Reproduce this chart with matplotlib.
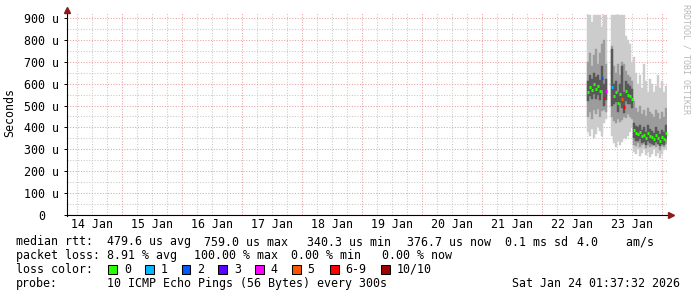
#!/usr/bin/env python3
"""SmokePing style latency graph (10 days, ICMP echo), redrawn with matplotlib."""
import matplotlib
matplotlib.use("Agg")
import matplotlib.pyplot as plt
import numpy as np
from matplotlib.lines import Line2D
from matplotlib.patches import Rectangle
from matplotlib.ticker import FixedLocator, FuncFormatter, MultipleLocator, NullFormatter
from matplotlib.transforms import ScaledTranslation

W, H = 697, 297
MONO = "DejaVu Sans Mono"
FS = 8.4
nan = np.nan

# sample columns, hours after 22 Jan 00:00 (each column covers 0.8 h)
hours = [18.0, 18.8, 19.6, 20.4, 21.2, 22.0, 22.8, 23.6, 24.4, 25.2,
         26.0, 26.8,
         27.6, 28.4, 29.2, 30.0, 30.8, 31.6, 32.4, 33.2, 34.0, 34.8, 35.6,
         36.4, 37.2, 38.0, 38.8, 39.6, 40.4, 41.2, 42.0, 42.8, 43.6, 44.4,
         45.2, 46.0, 46.8, 47.6, 48.4, 49.2]
step_h = 0.8

# median rtt (us) and packet loss (pings lost out of 10)
median = [560, 585, 570, 600, 575, 590, 565, 626, 535, 566,
          nan, nan,
          585, 545, 560, 510, 555, 530, 495, 565, 550, 545, 530,
          390, 375, 370, 380, 360, 365, 350, 375, 360, 355, 345,
          365, 350, 340, 355, 345, 375]
loss = [0, 0, 0, 0, 0, 0, 0, 2, 6, 4,
        0, 0,
        1, 0, 0, 0, 0, 5, 6, 0, 0, 0, 0,
        0, 0, 0, 0, 0, 0, 0, 0, 0, 0, 0,
        0, 0, 0, 0, 0, 0]

# smoke: outer (min/max), middle and inner ping spread, us
smoke_lo = [380, 360, 395, 350, 370, 400, 385, 360, 420, 440,
            nan, nan,
            360, 330, 310, 340, 320, 335, 350, 345, 360, 380, 400,
            290, 280, 300, 270, 285, 300, 275, 290, 265, 280, 300,
            270, 285, 260, 280, 295, 300]
smoke_hi = [915, 915, 880, 915, 915, 915, 915, 860, 915, 915,
            nan, nan,
            915, 915, 915, 915, 915, 915, 915, 820, 800, 780, 700,
            720, 650, 600, 640, 580, 690, 610, 560, 620, 600, 560,
            590, 640, 580, 610, 560, 590]
mid_lo = [450, 470, 440, 480, 460, 485, 450, 475, 480, 470,
          nan, nan,
          450, 430, 420, 440, 425, 435, 450, 445, 460, 450, 440,
          320, 315, 330, 310, 320, 325, 305, 320, 310, 315, 320,
          310, 320, 295, 315, 310, 325]
mid_hi = [700, 740, 680, 730, 760, 690, 740, 780, 800, 690,
          nan, nan,
          770, 680, 650, 690, 640, 700, 690, 660, 640, 630, 610,
          520, 490, 470, 500, 460, 480, 450, 490, 470, 460, 450,
          480, 465, 440, 470, 450, 490]
core_lo = [520, 545, 530, 555, 530, 550, 525, 570, 500, 525,
           nan, nan,
           500, 505, 515, 470, 510, 490, 465, 520, 505, 505, 490,
           350, 340, 340, 345, 330, 335, 320, 340, 330, 325, 320,
           335, 325, 315, 325, 320, 345]
core_hi = [610, 640, 620, 650, 630, 640, 615, 680, 600, 620,
           nan, nan,
           760, 600, 610, 560, 600, 680, 560, 610, 600, 590, 575,
           420, 405, 400, 410, 390, 400, 380, 410, 395, 385, 375,
           400, 385, 370, 390, 380, 410]

loss_colors = {0: "#26ff00", 1: "#00b8ff", 2: "#0059ff", 3: "#5e00ff",
               4: "#ff00ff", 5: "#ff5500", 6: "#ff0000", 10: "#a00000"}
legend_labels = ["0", "1", "2", "3", "4", "5", "6-9", "10/10"]
legend_keys = [0, 1, 2, 3, 4, 5, 6, 10]

day_labels = [f"{d} Jan" for d in range(14, 24)]
y_ticks = list(range(0, 1000, 100))

stats_rtt = ["median rtt:  479.6 us avg", "759.0 us max", "340.3 us min",
             "376.7 us now", "0.1 ms sd", "4.0    am/s"]
stats_loss = ["packet loss: 8.91 % avg", "100.00 % max", "0.00 % min", "0.00 % now"]
probe_text = "10 ICMP Echo Pings (56 Bytes) every 300s"
stamp = "Sat Jan 24 01:37:32 2026"


def fx(px):
    return px / W


def fy(py):
    return 1 - py / H


def main():
    fig = plt.figure(figsize=(W / 100, H / 100), dpi=100)
    fig.patch.set_facecolor("white")
    ax = fig.add_axes([fx(67), fy(215), 600 / W, 203 / H])

    x = 22 + np.array(hours) / 24
    w = step_h / 24

    # smoke, outer to inner
    bands = [(smoke_lo, smoke_hi, "#cccccc", 2),
             (mid_lo, mid_hi, "#9c9c9c", 3),
             (core_lo, core_hi, "#585858", 4)]
    for lo, hi, c, z in bands:
        lo = np.array(lo, float)
        hi = np.array(hi, float)
        ax.bar(x, hi - lo, bottom=lo, width=w, align="edge", color=c,
               edgecolor=c, linewidth=0.3, zorder=z)

    cols = [loss_colors[6 if 6 <= l < 10 else l] for l in loss]
    ax.hlines(median, x, x + w, colors=cols, linewidth=2.2, zorder=5)

    ax.set_xlim(14 + 5 / 60, 24 + 5 / 60)
    ax.set_ylim(0, 900 * 203 / 197)

    # grid: days / 6 hours, 100 us / 50 us
    ax.xaxis.set_major_locator(MultipleLocator(1))
    ax.xaxis.set_minor_locator(MultipleLocator(0.25))
    ax.xaxis.set_major_formatter(NullFormatter())
    ax.xaxis.set_minor_formatter(FuncFormatter(
        lambda v, p: day_labels[int(v) - 14] if abs(v % 1 - 0.5) < 1e-6 and 14 <= int(v) < 24 else ""))
    ax.yaxis.set_major_locator(FixedLocator(y_ticks))
    ax.yaxis.set_minor_locator(MultipleLocator(50))
    ax.yaxis.set_major_formatter(FuncFormatter(lambda v, p: "0" if v == 0 else f"{int(v)} u"))

    ax.set_axisbelow(True)
    ax.grid(which="major", color="#e6a0a0", linestyle=(0, (1, 1.6)), linewidth=0.75)
    ax.grid(which="minor", color="#c8c8c8", linestyle=(0, (1, 1.6)), linewidth=0.75)

    ax.tick_params(axis="x", which="both", length=0, pad=2.5)
    ax.tick_params(axis="y", which="major", length=2.5, width=0.7, pad=3.2, direction="out")
    ax.tick_params(axis="y", which="minor", length=0)
    for lab in ax.get_xticklabels(minor=True) + ax.get_yticklabels():
        lab.set_fontfamily(MONO)
        lab.set_fontsize(FS)
    ticks = ax.yaxis.get_major_ticks()
    ticks[0].label1.set_transform(ticks[0].label1.get_transform()
                                  + ScaledTranslation(-14 / 100, 0, fig.dpi_scale_trans))

    for side in ("top", "right", "left", "bottom"):
        ax.spines[side].set_visible(False)

    # axes with arrows
    fig.add_artist(Line2D([fx(67), fx(669)], [fy(215), fy(215)], color="black", lw=0.8))
    fig.add_artist(Line2D([fx(67), fx(67)], [fy(216), fy(11)], color="black", lw=0.8))
    fig.add_artist(Line2D([fx(671)], [fy(215)], marker=">", ms=4, color="#8b1a1a", lw=0))
    fig.add_artist(Line2D([fx(67)], [fy(10)], marker="^", ms=4, color="#8b1a1a", lw=0))

    fig.text(fx(10), fy(113), "Seconds", rotation=90, ha="center", va="center",
             family=MONO, fontsize=FS)
    fig.text(fx(686), fy(4), "RRDTOOL / TOBI OETIKER", rotation=-90, ha="center",
             va="top", family=MONO, fontsize=6, color="#b8b8b8")

    # footer legend
    rtt_x = [16, 204, 307.3, 407.3, 505, 577]
    for px, s in zip(rtt_x, stats_rtt):
        fig.text(fx(px), fy(242), s, ha="left", va="center", family=MONO, fontsize=FS)
    loss_x = [16, 194, 290.7, 382]
    for px, s in zip(loss_x, stats_loss):
        fig.text(fx(px), fy(255.5), s, ha="left", va="center", family=MONO, fontsize=FS)
    fig.text(fx(16), fy(269.5), "loss color:", ha="left", va="center", family=MONO, fontsize=FS)
    box_x = [108.3, 145, 181.7, 218.3, 255, 292, 330, 381]
    for bx, key, lab in zip(box_x, legend_keys, legend_labels):
        fig.add_artist(Rectangle((fx(bx), fy(273.7)), 8.5 / W, 9 / H,
                                 transform=fig.transFigure, facecolor=loss_colors[key],
                                 edgecolor="black", linewidth=0.75))
        fig.text(fx(bx + 15.5), fy(269.5), lab, ha="left", va="center", family=MONO, fontsize=FS)
    fig.text(fx(16), fy(283.5), "probe:", ha="left", va="center", family=MONO, fontsize=FS)
    fig.text(fx(107.3), fy(283.5), probe_text, ha="left", va="center", family=MONO, fontsize=FS)
    fig.text(fx(680), fy(283.5), stamp, ha="right", va="center", family=MONO, fontsize=FS)

    fig.savefig("out.png", dpi=100, facecolor="white")
    plt.close(fig)


if __name__ == "__main__":
    main()
